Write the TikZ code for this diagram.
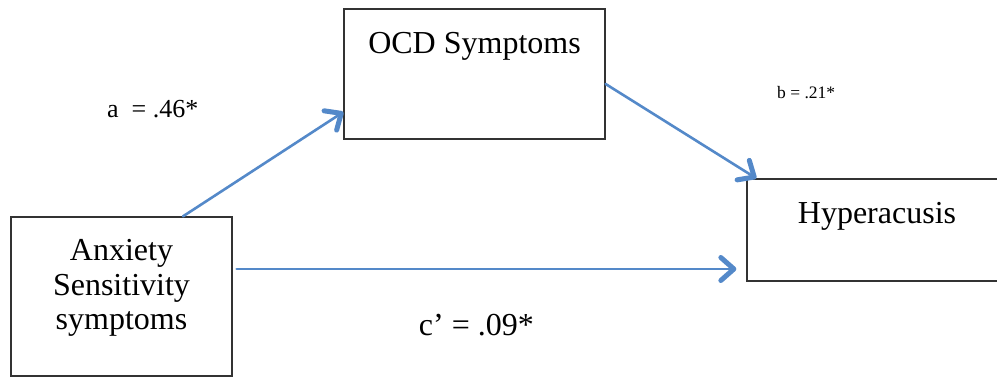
\documentclass[tikz,border=0pt]{standalone}
\usepackage{fontspec}
\setmainfont{Liberation Serif}
\usetikzlibrary{arrows.meta}
\definecolor{pathblue}{RGB}{84,137,201}

\begin{document}
\begin{tikzpicture}[x=1pt, y=-1pt,
  box/.style={rectangle, draw=black!80, line width=1.3pt, inner sep=0pt},
  boxtext/.style={anchor=north, inner sep=0pt, align=center, font=\fontsize{32}{34.5}\selectfont},
  path arrow/.style={draw=pathblue, line width=2.6pt, line cap=round,
    -{Straight Barb[length=13pt, width=23pt, line width=5pt, round]}}]
\useasboundingbox (0,0) rectangle (997,377);

\draw 
(121.5, 296.5) node[box, minimum width=221pt, minimum height=159pt](anx){}
(474.5, 74) node[box, minimum width=261pt, minimum height=130pt](ocd){}
(877, 230) node[box, minimum width=260pt, minimum height=102pt](hyp){};

\node[boxtext, yshift=-23pt] (anxtext) at (anx.north) {Anxiety\\Sensitivity\\symptoms};
\node[boxtext, yshift=-24pt] (ocdtext) at (ocd.north) {OCD Symptoms};
\node[boxtext, yshift=-24pt] (hyptext) at (hyp.north) {Hyperacusis};

% path labels
\node[anchor=base west, inner sep=0pt, font=\fontsize{26}{28}\selectfont] (alabel) at (107, 118) {a\ \ = .46*};
\node[anchor=base west, inner sep=0pt, font=\fontsize{17.5}{20}\selectfont] (blabel) at (777, 99) {b = .21*};
\node[anchor=base east, inner sep=0pt, font=\fontsize{32}{34}\selectfont] (clabel) at (534, 335) {c’ = .09*};

\draw[path arrow] ([xshift=61.5pt]anx.north) -- ([yshift=-38pt]ocd.west);
\draw[path arrow] ([yshift=-10pt]ocd.east) -- ([xshift=10pt]hyp.north west);
\draw[path arrow] ([xshift=4pt, yshift=27.5pt]anx.east) -- ([xshift=-10pt, yshift=-39pt]hyp.west);
\end{tikzpicture}
\end{document}
